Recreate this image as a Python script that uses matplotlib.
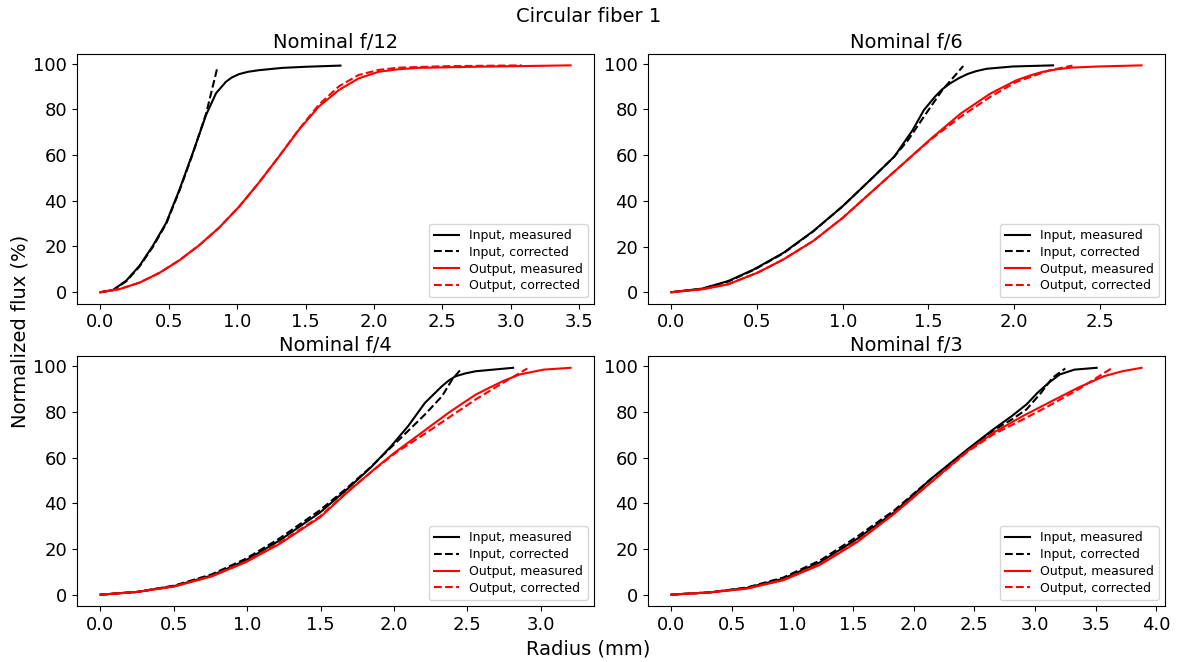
import matplotlib
matplotlib.use('Agg')
import matplotlib.pyplot as plt

# ---- Nominal f/12 ----
f12_in_meas_r = [0.0, 0.092, 0.189, 0.286, 0.383, 0.481, 0.578, 0.675, 0.772, 0.845, 0.917, 0.96, 1.015, 1.08, 1.16, 1.33, 1.507, 1.755]
f12_in_meas_flux = [0.0, 1.0, 5.1, 11.6, 20.3, 30.4, 44.9, 60.9, 77.5, 87.0, 92.0, 93.9, 95.4, 96.4, 97.1, 98.1, 98.6, 99.1]
f12_in_corr_r = [0.0, 0.092, 0.189, 0.286, 0.383, 0.481, 0.578, 0.675, 0.772, 0.856]
f12_in_corr_flux = [0.0, 0.9, 4.8, 11.3, 19.8, 30.0, 44.5, 60.5, 78.0, 98.5]
f12_out_meas_r = [0.0, 0.141, 0.286, 0.432, 0.578, 0.723, 0.869, 1.015, 1.16, 1.306, 1.451, 1.597, 1.743, 1.888, 2.034, 2.18, 2.325, 2.745, 3.438]
f12_out_meas_flux = [0.0, 1.4, 4.2, 8.5, 14.0, 20.6, 28.3, 37.5, 48.0, 59.4, 71.0, 81.2, 88.4, 93.5, 96.4, 97.5, 98.1, 98.6, 99.2]
f12_out_corr_r = [0.0, 0.141, 0.286, 0.432, 0.578, 0.723, 0.869, 1.015, 1.16, 1.306, 1.451, 1.597, 1.743, 1.888, 2.034, 2.18, 2.5, 3.08]
f12_out_corr_flux = [0.0, 1.4, 4.2, 8.5, 14.0, 20.6, 28.3, 37.5, 48.0, 59.4, 71.2, 82.0, 90.0, 95.0, 97.2, 98.2, 98.8, 99.2]

# ---- Nominal f/6 ----
f6_in_meas_r = [0.0, 0.181, 0.332, 0.482, 0.655, 0.827, 0.999, 1.171, 1.301, 1.408, 1.473, 1.537, 1.58, 1.624, 1.68, 1.731, 1.78, 1.839, 1.99, 2.227]
f6_in_meas_flux = [0.0, 1.6, 4.9, 10.0, 17.3, 26.7, 37.6, 49.9, 59.4, 71.0, 79.7, 85.5, 88.8, 91.3, 93.8, 95.6, 96.8, 97.8, 98.8, 99.3]
f6_in_corr_r = [0.0, 0.181, 0.332, 0.482, 0.655, 0.827, 0.999, 1.171, 1.301, 1.38, 1.473, 1.58, 1.703]
f6_in_corr_flux = [0.0, 1.5, 4.7, 9.8, 17.1, 26.6, 37.6, 49.9, 59.4, 66.5, 76.8, 88.4, 99.0]
f6_out_meas_r = [0.0, 0.181, 0.332, 0.504, 0.655, 0.827, 0.999, 1.171, 1.344, 1.516, 1.688, 1.86, 2.011, 2.09, 2.162, 2.25, 2.334, 2.485, 2.743]
f6_out_meas_flux = [0.0, 1.3, 3.5, 8.6, 14.4, 22.4, 32.5, 44.1, 55.7, 67.3, 78.2, 86.9, 92.7, 94.8, 96.4, 97.6, 98.3, 98.8, 99.3]
f6_out_corr_r = [0.0, 0.181, 0.332, 0.504, 0.655, 0.827, 0.999, 1.171, 1.344, 1.516, 1.688, 1.86, 2.011, 2.205, 2.34]
f6_out_corr_flux = [0.0, 1.3, 3.5, 8.6, 14.4, 22.4, 32.5, 44.1, 55.7, 67.0, 76.8, 85.5, 92.0, 97.1, 99.2]

# ---- Nominal f/4 ----
f4_in_meas_r = [0.0, 0.251, 0.505, 0.759, 0.99, 1.22, 1.497, 1.682, 1.843, 1.982, 2.097, 2.212, 2.328, 2.375, 2.42, 2.49, 2.558, 2.812]
f4_in_meas_flux = [0.0, 1.2, 3.8, 8.4, 15.0, 23.7, 36.0, 46.2, 55.7, 65.1, 73.8, 84.0, 91.3, 93.8, 95.6, 96.9, 97.8, 99.3]
f4_in_corr_r = [0.0, 0.251, 0.505, 0.759, 0.99, 1.22, 1.497, 1.682, 1.843, 1.982, 2.097, 2.212, 2.328, 2.397, 2.461]
f4_in_corr_flux = [0.0, 1.2, 4.0, 8.9, 15.7, 24.6, 37.0, 46.8, 55.9, 64.6, 71.7, 78.9, 86.9, 94.2, 99.0]
f4_out_meas_r = [0.0, 0.251, 0.505, 0.759, 0.99, 1.22, 1.497, 1.682, 1.866, 2.005, 2.189, 2.374, 2.558, 2.743, 2.858, 3.02, 3.204]
f4_out_meas_flux = [0.0, 1.2, 3.6, 8.0, 14.2, 22.2, 33.9, 44.8, 54.9, 62.2, 70.9, 79.7, 87.6, 93.5, 96.4, 98.5, 99.3]
f4_out_corr_r = [0.0, 0.251, 0.505, 0.759, 0.99, 1.22, 1.497, 1.682, 1.866, 2.005, 2.189, 2.374, 2.558, 2.743, 2.909]
f4_out_corr_flux = [0.0, 1.2, 3.7, 8.2, 14.5, 22.6, 34.3, 45.0, 54.8, 61.8, 69.5, 77.5, 85.5, 92.7, 99.0]

# ---- Nominal f/3 ----
f3_in_meas_r = [0.0, 0.316, 0.62, 0.924, 1.228, 1.532, 1.836, 2.14, 2.444, 2.657, 2.809, 2.93, 3.021, 3.112, 3.204, 3.325, 3.508]
f3_in_meas_flux = [0.0, 1.0, 2.9, 7.0, 14.2, 24.4, 36.0, 50.6, 63.7, 72.4, 78.2, 83.3, 88.4, 92.7, 96.4, 98.5, 99.3]
f3_in_corr_r = [0.0, 0.316, 0.62, 0.924, 1.228, 1.532, 1.836, 2.14, 2.444, 2.657, 2.809, 2.93, 3.05, 3.143, 3.249]
f3_in_corr_flux = [0.0, 1.0, 3.1, 7.5, 15.0, 25.4, 36.8, 50.6, 63.2, 71.9, 76.7, 81.1, 88.4, 94.9, 99.0]
f3_out_meas_r = [0.0, 0.316, 0.62, 0.924, 1.228, 1.532, 1.836, 2.14, 2.444, 2.657, 2.9, 3.112, 3.355, 3.568, 3.72, 3.878]
f3_out_meas_flux = [0.0, 1.0, 2.6, 6.3, 13.1, 23.0, 35.3, 49.1, 62.9, 70.9, 78.2, 84.0, 90.6, 95.6, 97.8, 99.3]
f3_out_corr_r = [0.0, 0.316, 0.62, 0.924, 1.228, 1.532, 1.836, 2.14, 2.444, 2.657, 2.9, 3.112, 3.355, 3.629]
f3_out_corr_flux = [0.0, 1.0, 2.7, 6.6, 13.5, 23.4, 35.5, 49.1, 62.6, 70.2, 76.7, 82.6, 89.8, 99.0]

titles = ['Nominal f/12', 'Nominal f/6', 'Nominal f/4', 'Nominal f/3']
panels = [
    (f12_in_meas_r, f12_in_meas_flux, f12_in_corr_r, f12_in_corr_flux,
     f12_out_meas_r, f12_out_meas_flux, f12_out_corr_r, f12_out_corr_flux),
    (f6_in_meas_r, f6_in_meas_flux, f6_in_corr_r, f6_in_corr_flux,
     f6_out_meas_r, f6_out_meas_flux, f6_out_corr_r, f6_out_corr_flux),
    (f4_in_meas_r, f4_in_meas_flux, f4_in_corr_r, f4_in_corr_flux,
     f4_out_meas_r, f4_out_meas_flux, f4_out_corr_r, f4_out_corr_flux),
    (f3_in_meas_r, f3_in_meas_flux, f3_in_corr_r, f3_in_corr_flux,
     f3_out_meas_r, f3_out_meas_flux, f3_out_corr_r, f3_out_corr_flux),
]

fig, axes = plt.subplots(nrows=2, ncols=2, figsize=(11.77, 6.62), dpi=100)
fig.subplots_adjust(left=0.0654, right=0.9898, bottom=0.0846, top=0.9184,
                    wspace=0.104, hspace=0.212)

for ax, title, p in zip(axes.flat, titles, panels):
    ax.plot(p[0], p[1], color='black', linestyle='-', label='Input, measured')
    ax.plot(p[2], p[3], color='black', linestyle='--', label='Input, corrected')
    ax.plot(p[4], p[5], color='red', linestyle='-', label='Output, measured')
    ax.plot(p[6], p[7], color='red', linestyle='--', label='Output, corrected')
    ax.set_title(title, fontsize=14, pad=4)
    ax.tick_params(labelsize=13)
    ax.legend(loc='lower right', fontsize=9, labelspacing=0.3)

fig.suptitle('Circular fiber 1', fontsize=14, y=0.99)
fig.supxlabel('Radius (mm)', fontsize=14, y=0.005)
fig.supylabel('Normalized flux (%)', fontsize=14, x=0.009)

plt.savefig('out.png', dpi=100)
